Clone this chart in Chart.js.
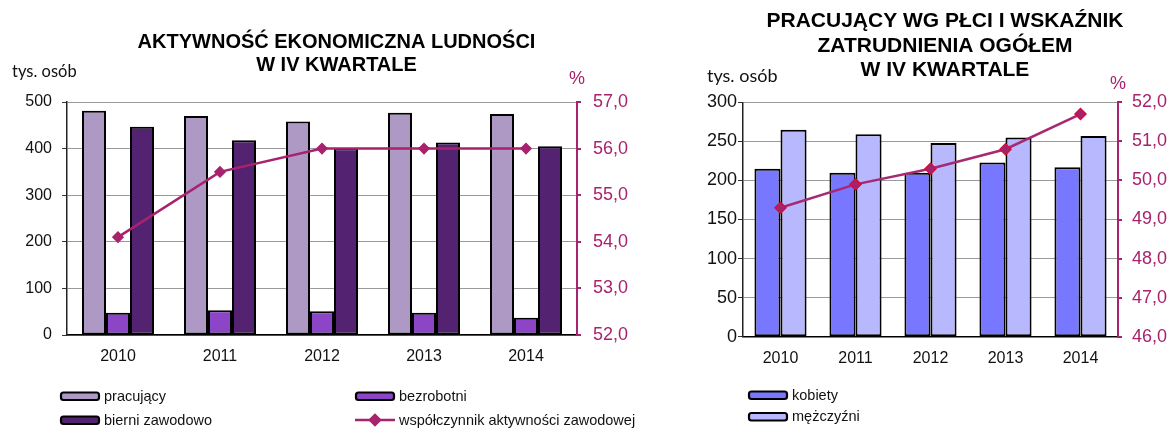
<!DOCTYPE html>
<html>
<head>
<meta charset="utf-8">
<script src="https://cdn.jsdelivr.net/npm/chart.js@4.4.1/dist/chart.umd.min.js"></script>
<style>
  html, body { margin: 0; padding: 0; background: #fff; }
  #wrap { position: relative; width: 1171px; height: 428px; overflow: hidden; }
  #activity { position: absolute; left: 0; top: 0; }
  #employment { position: absolute; left: 660px; top: 0; }
</style>
</head>
<body>
<div id="wrap">
  <canvas id="activity" width="660" height="428"></canvas>
  <canvas id="employment" width="540" height="428"></canvas>
</div>
<script>
// ---- data -------------------------------------------------------------
const years = ['2010', '2011', '2012', '2013', '2014'];

// economic activity of the population, Q4 (thous. persons / %)
const pracujacy = [481, 470, 458, 477, 474];
const bezrobotni = [48, 53, 51, 48, 37];
const bierniZawodowo = [447, 418, 401, 413, 405];
const wspolczynnikAktywnosci = [54.1, 55.5, 56.0, 56.0, 56.0];

// employed by sex (thous. persons) and total employment rate (%)
const kobiety = [215, 210, 210, 223, 217];
const mezczyzni = [265, 259, 248, 255, 257];
const wskaznikZatrudnienia = [49.3, 49.9, 50.3, 50.8, 51.7];

// axis tick values
const ticksOsobyA = [0, 100, 200, 300, 400, 500];
const ticksProcA = [52, 53, 54, 55, 56, 57];
const ticksOsobyB = [0, 50, 100, 150, 200, 250, 300];
const ticksProcB = [46, 47, 48, 49, 50, 51, 52];

// ---- styling ----------------------------------------------------------
const FONT = "'Liberation Sans', Arial, sans-serif";
const MAGENTA = '#A8226E';
const GRID = '#9a9a9a';

const commaFmt = v => Number(v).toFixed(1).replace('.', ',');
const range = arr => ({ min: arr[0], max: arr[arr.length - 1], step: arr[1] - arr[0] });

// Unit captions above the axes and a two-column legend under the plot
const sideNotes = {
  id: 'sideNotes',
  afterDraw(chart, args, opts) {
    const ctx = chart.ctx;
    const a = chart.chartArea;
    ctx.save();
    ctx.font = opts.unitFont;
    ctx.textBaseline = 'alphabetic';
    ctx.textAlign = 'left';
    ctx.fillStyle = '#111';
    ctx.fillText('tys. osób', a.left + opts.unitDx, opts.unitY);
    ctx.fillStyle = MAGENTA;
    ctx.textAlign = 'center';
    ctx.font = '18px ' + FONT;
    ctx.fillText('%', a.right, opts.pctY);

    ctx.font = '14.5px ' + FONT;
    ctx.textAlign = 'left';
    ctx.textBaseline = 'middle';
    opts.slots.forEach(s => {
      const ds = chart.data.datasets[s.dataset];
      if (ds.type === 'line') {
        ctx.strokeStyle = ds.borderColor;
        ctx.lineWidth = 2.5;
        ctx.beginPath();
        ctx.moveTo(s.x, s.y);
        ctx.lineTo(s.x + 40, s.y);
        ctx.stroke();
        Chart.helpers.drawPoint(ctx, {
          pointStyle: 'rectRot', radius: 5, borderWidth: 1
        }, s.x + 20, s.y);
        ctx.fillStyle = ds.pointBackgroundColor;
        ctx.fill();
      } else {
        ctx.fillStyle = ds.backgroundColor;
        ctx.strokeStyle = '#000';
        ctx.lineWidth = 2.2;
        ctx.beginPath();
        ctx.roundRect(s.x + 1, s.y - 3.5, 38, 7.5, 2.5);
        ctx.fill();
        ctx.stroke();
      }
      ctx.fillStyle = '#111';
      ctx.fillText(ds.label, s.x + 44, s.y + 0.5);
    });
    ctx.restore();
  }
};

function barSet(label, data, color, catPct) {
  return {
    type: 'bar', label, data, yAxisID: 'y',
    backgroundColor: color, borderColor: '#000', borderWidth: 2,
    borderSkipped: false, categoryPercentage: catPct, barPercentage: 1, order: 2
  };
}

function lineSet(label, data, color, pointFill, pointEdge, r) {
  return {
    type: 'line', label, data, yAxisID: 'y1',
    borderColor: color, borderWidth: 2.5, tension: 0,
    pointStyle: 'rectRot', pointRadius: r, pointHoverRadius: r,
    pointBackgroundColor: pointFill, pointBorderColor: pointEdge, pointBorderWidth: 1.5,
    order: 1
  };
}

function scalesFor(cfg) {
  const L = range(cfg.leftTicks), R = range(cfg.rightTicks);
  return {
    x: {
      grid: { display: false, drawTicks: false },
      border: { color: '#000', width: 1.5 },
      ticks: { font: { family: FONT, size: 16 }, color: '#111', padding: 12 },
      afterFit: s => { s.height = cfg.xHeight; }
    },
    y: {
      position: 'left', min: L.min, max: L.max,
      ticks: { stepSize: L.step, font: { family: FONT, size: cfg.leftFont }, color: '#111', padding: cfg.leftPad },
      grid: { color: GRID, lineWidth: 1, tickLength: 5, tickColor: '#333' },
      border: { color: '#222', width: 1.5 },
      afterFit: s => { s.width = cfg.leftWidth; }
    },
    y1: {
      position: 'right', min: R.min, max: R.max,
      ticks: { stepSize: R.step, callback: commaFmt, font: { family: FONT, size: 18 }, color: MAGENTA, padding: cfg.rightPad },
      grid: { drawOnChartArea: false, tickLength: 4, tickColor: MAGENTA, lineWidth: 2 },
      border: { color: MAGENTA, width: 2 },
      afterFit: s => { s.width = cfg.rightWidth; }
    }
  };
}

Chart.register(sideNotes);

// ---- left chart: economic activity -----------------------------------
new Chart(document.getElementById('activity'), {
  data: {
    labels: years,
    datasets: [
      barSet('pracujący', pracujacy, '#AE99C4', 0.706),
      barSet('bezrobotni', bezrobotni, '#8B45C6', 0.706),
      barSet('bierni zawodowo', bierniZawodowo, '#532372', 0.706),
      lineSet('współczynnik aktywności zawodowej', wspolczynnikAktywnosci, MAGENTA, MAGENTA, MAGENTA, 5)
    ]
  },
  options: {
    responsive: false, animation: false, events: [],
    layout: { padding: { left: 13, right: 0, top: 0, bottom: 0 } },
    scales: scalesFor({
      leftTicks: ticksOsobyA, rightTicks: ticksProcA,
      xHeight: 93, leftWidth: 54, rightWidth: 83,
      leftFont: 16, leftPad: 10, rightPad: 12
    }),
    plugins: {
      legend: { display: false },
      tooltip: { enabled: false },
      title: {
        display: true,
        text: ['AKTYWNOŚĆ EKONOMICZNA LUDNOŚCI', 'W IV KWARTALE'],
        font: { family: FONT, size: 20, weight: 'bold', lineHeight: 1.15 },
        color: '#000',
        padding: { top: 30.5, bottom: 25.5 }
      },
      sideNotes: {
        unitFont: "16.5px Lato, 'Open Sans', sans-serif",
        unitDx: -55, unitY: 77, pctY: 84,
        slots: [
          { dataset: 0, x: 60, y: 396 },
          { dataset: 1, x: 355, y: 396 },
          { dataset: 2, x: 60, y: 420 },
          { dataset: 3, x: 355, y: 420 }
        ]
      }
    }
  }
});

// ---- right chart: employed by sex ------------------------------------
new Chart(document.getElementById('employment'), {
  data: {
    labels: years,
    datasets: [
      barSet('kobiety', kobiety, '#7777FF', 0.695),
      barSet('mężczyźni', mezczyzni, '#B8B8FF', 0.695),
      lineSet('wskaźnik zatrudnienia ogółem', wskaznikZatrudnienia, '#A52A72', '#A3246E', '#D0103A', 5.5)
    ]
  },
  options: {
    responsive: false, animation: false, events: [],
    layout: { padding: { left: 30, right: 0, top: 0, bottom: 0 } },
    scales: scalesFor({
      leftTicks: ticksOsobyB, rightTicks: ticksProcB,
      xHeight: 91.3, leftWidth: 53, rightWidth: 82,
      leftFont: 18, leftPad: 1, rightPad: 10
    }),
    plugins: {
      legend: { display: false },
      tooltip: { enabled: false },
      title: {
        display: true,
        text: ['PRACUJĄCY WG PŁCI I WSKAŹNIK', 'ZATRUDNIENIA OGÓŁEM', 'W IV KWARTALE'],
        font: { family: FONT, size: 21, weight: 'bold', lineHeight: 1.18 },
        color: '#000',
        padding: { top: 8.6, bottom: 19.4 }
      },
      sideNotes: {
        unitFont: "18px Lato, 'Open Sans', sans-serif",
        unitDx: -36, unitY: 82, pctY: 89,
        slots: [
          { dataset: 0, x: 88, y: 395 },
          { dataset: 1, x: 88, y: 416.5 }
        ]
      }
    }
  }
});
</script>
</body>
</html>
